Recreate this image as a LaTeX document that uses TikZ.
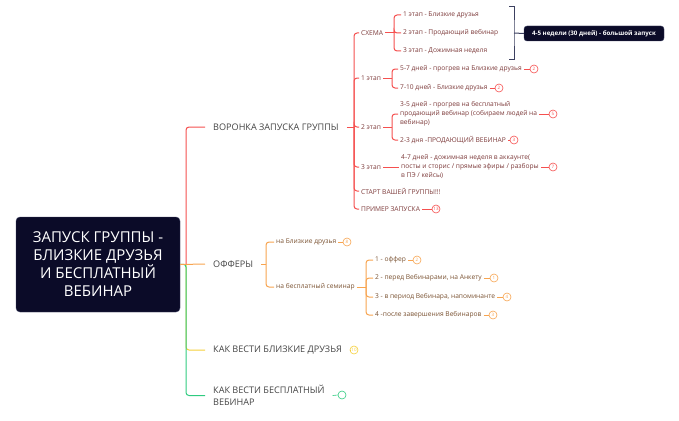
\documentclass[tikz,border=0pt]{standalone}
\usepackage{fontspec}
\setmainfont{Open Sans}
\definecolor{cred}{HTML}{F5504F}
\definecolor{corange}{HTML}{F7A450}
\definecolor{cyellow}{HTML}{F5D03A}
\definecolor{cgreen}{HTML}{2FCB80}
\definecolor{navy}{HTML}{0B0B28}
\definecolor{tmain}{HTML}{444444}
\definecolor{tred}{HTML}{7D3B3B}
\definecolor{tor}{HTML}{7A5232}
\definecolor{brk}{HTML}{3C4060}
\begin{document}
\begin{tikzpicture}[x=1pt,y=-1pt,
  mainnode/.style={anchor=west, inner xsep=8pt, inner ysep=1pt, font=\fontsize{9.1}{12}\selectfont, text=tmain, align=left},
  subnode/.style={anchor=west, inner xsep=2pt, inner ysep=1pt, font=\fontsize{6.65}{9}\selectfont, align=left},
  rsub/.style={subnode, text=tred},
  osub/.style={subnode, text=tor},
  badge/.style={circle, draw, line width=0.6pt, inner sep=0pt, minimum size=8pt, font=\fontsize{4.5}{5}\selectfont},
  rline/.style={draw=cred, line width=1pt, rounded corners=3pt},
  oline/.style={draw=corange, line width=1pt, rounded corners=3pt},
  yline/.style={draw=cyellow, line width=1pt, rounded corners=3pt},
  gline/.style={draw=cgreen, line width=1pt, rounded corners=3pt},
  rootbox/.style={fill=navy, draw=brk, line width=0.4pt, rounded corners=4pt, minimum width=164pt, minimum height=95pt, text=white, align=center, font=\fontsize{15}{18}\selectfont},
  summ/.style={fill=navy, draw=brk, line width=0.4pt, rounded corners=3pt, minimum width=140pt, minimum height=15pt, inner sep=1pt, text=white, font=\bfseries\fontsize{6.2}{7}\selectfont}
]
\useasboundingbox (0,0) rectangle (679,420);

% root
\node[rootbox] (root) at (98,264.5) {ЗАПУСК ГРУППЫ -\\БЛИЗКИЕ ДРУЗЬЯ\\И БЕСПЛАТНЫЙ\\ВЕБИНАР};

% main topics
\node[mainnode] (voronka) at (205,127) {ВОРОНКА ЗАПУСКА ГРУППЫ};
\node[mainnode] (offers) at (205,264) {ОФФЕРЫ};
\node[mainnode] (kak1) at (205,350) {КАК ВЕСТИ БЛИЗКИЕ ДРУЗЬЯ};
\node[mainnode] (kak2) at (205,395.5) {КАК ВЕСТИ БЕСПЛАТНЫЙ\\ВЕБИНАР};

\coordinate (rs) at (186,264);
\draw[yline] (rs) |- (kak1.west);
\draw[gline] (root.east) -- (rs) |- (kak2.west);
\draw[rline] (rs) |- (voronka.west);
\draw[oline] (root.east) -- (offers.west);

\node[badge, draw=cyellow, text=cyellow] (b_kak1) at (354,350) {10};
\draw[cyellow, line width=0.6pt] (kak1.east) -- (b_kak1.west);
\node[badge, draw=cgreen] (b_kak2) at (342,395) {};
\draw[cgreen, line width=0.6pt] (kak2.east) -- (b_kak2.west);

% red branch
\node[rsub] (schema) at (359,33) {СХЕМА};
\node[rsub] (et1) at (359,78) {1 этап};
\node[rsub] (et2) at (359,127) {2 этап};
\node[rsub] (et3) at (359,167) {3 этап};
\node[rsub] (start) at (359,191) {СТАРТ ВАШЕЙ ГРУППЫ!!!};
\node[rsub] (primer) at (359,209) {ПРИМЕР ЗАПУСКА};

\coordinate (vs) at (354,127);
\draw[rline] (voronka.east) -- (vs);
\foreach \n in {schema,et1,et2,et3,start,primer} \draw[rline] (vs) |- (\n.west);

% schema
\node[rsub] (s1) at (401,15) {1 этап - Близкие друзья};
\node[rsub] (s2) at (401,33) {2 этап - Продающий вебинар};
\node[rsub] (s3) at (401,51) {3 этап - Дожимная неделя};
\coordinate (ss) at (394,33);
\draw[rline] (schema.east) -- (ss);
\foreach \n in {s1,s2,s3} \draw[rline] (ss) |- (\n.west);

\coordinate (bt) at (509,7);
\coordinate (bb) at (509,59);
\coordinate (bm) at (514,33);
\draw[brk, line width=1pt] (bt) -| (bm) |- (bb);
\node[summ] (summary) at (594,33.5) {4-5 недели (30 дней) - большой запуск};
\draw[brk, line width=1pt] (bm) -- (summary.west);

% 1 этап
\node[rsub] (e11) at (398,69) {5-7 дней - прогрев на Близкие друзья};
\node[rsub] (e12) at (398,88) {7-10 дней - Близкие друзья};
\coordinate (e1s) at (392,78);
\draw[rline] (et1.east) -- (e1s);
\foreach \n in {e11,e12} \draw[rline] (e1s) |- (\n.west);

% 2 этап
\node[rsub] (e21) at (398,114) {3-5 дней - прогрев на бесплатный\\продающий вебинар (собираем людей на\\вебинар)};
\node[rsub] (e22) at (398,140) {2-3 дня -ПРОДАЮЩИЙ ВЕБИНАР};
\coordinate (e2s) at (392,127);
\draw[rline] (et2.east) -- (e2s);
\foreach \n in {e21,e22} \draw[rline] (e2s) |- (\n.west);

% 3 этап
\node[rsub] (e31) at (399,167) {4-7 дней - дожимная неделя в аккаунте(\\посты и сторис / прямые эфиры / разборы\\в ПЭ / кейсы)};
\draw[rline] (et3.east) -- (e31.west);

% red badges
\node[badge, draw=cred, text=cred] (b11) at (534,69) {2};
\node[badge, draw=cred, text=cred] (b12) at (499,88) {2};
\node[badge, draw=cred, text=cred] (b21) at (553,114) {5};
\node[badge, draw=cred, text=cred] (b22) at (514,140) {3};
\node[badge, draw=cred, text=cred] (b31) at (553,167) {7};
\node[badge, draw=cred, text=cred] (bpr) at (436,209) {13};
\foreach \a/\b in {e11/b11,e12/b12,e21/b21,e22/b22,e31/b31,primer/bpr}
  \draw[cred, line width=0.6pt] (\a.east) -- (\b.west);

% offers
\node[osub] (o1) at (274,242) {на Близкие друзья};
\node[osub] (o2) at (274,287) {на бесплатный семинар};
\coordinate (os) at (266,264);
\draw[oline] (offers.east) -- (os);
\foreach \n in {o1,o2} \draw[oline] (os) |- (\n.west);

\node[osub] (o21) at (373,260) {1 - оффер};
\node[osub] (o22) at (373,278) {2 - перед Вебинарами, на Анкету};
\node[osub] (o23) at (373,297) {3 - в период Вебинара, напоминанте};
\node[osub] (o24) at (373,315) {4 -после завершения Вебинаров};
\coordinate (o2s) at (366,287);
\draw[oline] (o2.east) -- (o2s);
\foreach \n in {o21,o22,o23,o24} \draw[oline] (o2s) |- (\n.west);

\node[badge, draw=corange, text=corange] (bo1) at (347,242) {8};
\node[badge, draw=corange, text=corange] (bo21) at (417,260) {2};
\node[badge, draw=corange, text=corange] (bo22) at (494,278) {1};
\node[badge, draw=corange, text=corange] (bo23) at (507,297) {4};
\node[badge, draw=corange, text=corange] (bo24) at (493,315) {3};
\foreach \a/\b in {o1/bo1,o21/bo21,o22/bo22,o23/bo23,o24/bo24}
  \draw[corange, line width=0.6pt] (\a.east) -- (\b.west);
\end{tikzpicture}
\end{document}
